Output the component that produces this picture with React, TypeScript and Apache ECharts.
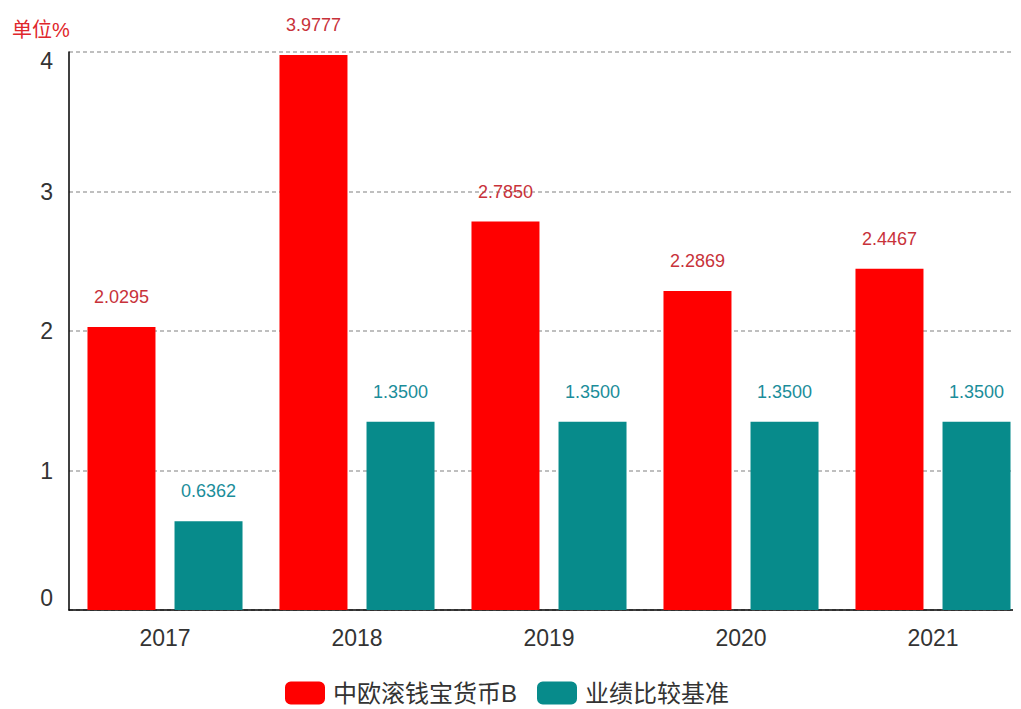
import React, { useEffect, useRef } from "react";
import * as echarts from "echarts";

const categories = ["2017", "2018", "2019", "2020", "2021"];
const fundValues = [2.0295, 3.9777, 2.785, 2.2869, 2.4467];
const benchmarkValues = [0.6362, 1.35, 1.35, 1.35, 1.35];
const seriesNames = ["中欧滚钱宝货币B", "业绩比较基准"];
const unitLabel = "单位%";
const yMin = 0;
const yMax = 4;

const FONT = "'Liberation Sans', Arial, 'Noto Sans CJK SC', sans-serif";

export default function App() {
  const ref = useRef<HTMLDivElement>(null);
  useEffect(() => {
    if (!ref.current) return;
    const chart = echarts.init(ref.current, undefined, { renderer: "svg" });
    chart.setOption({
      animation: false,
      textStyle: { fontFamily: FONT },
      title: {
        text: unitLabel,
        left: -1,
        top: 7,
        textStyle: { color: "#e0262b", fontSize: 20, fontWeight: "normal", fontFamily: FONT },
      },
      legend: {
        bottom: -1,
        left: 272,
        itemWidth: 40,
        itemHeight: 23,
        itemGap: 20,
        icon: "roundRect",
        textStyle: { fontSize: 24, color: "#333", fontFamily: FONT, padding: [0, 0, 0, 3] },
        data: seriesNames,
      },
      grid: { left: 61, right: 19, top: 44, bottom: 99, containLabel: false },
      xAxis: {
        type: "category",
        data: categories,
        axisLine: { lineStyle: { color: "#000", width: 1.5 } },
        axisTick: { lineStyle: { color: "#000" }, length: 8 },
        axisLabel: { fontSize: 23, color: "#333", margin: 16 },
      },
      yAxis: {
        type: "value",
        min: yMin,
        max: yMax,
        interval: 1,
        axisLine: { show: true, lineStyle: { color: "#000", width: 1.5 } },
        axisTick: { show: false },
        axisLabel: {
          fontSize: 23,
          color: "#333",
          margin: 16,
          formatter: (v: number) =>
            v === yMax ? `{top|${v}}` : v === yMin ? `{bot|${v}}` : `${v}`,
          rich: {
            top: { fontSize: 23, color: "#333", padding: [18, 0, 0, 0] },
            bot: { fontSize: 23, color: "#333", padding: [0, 0, 25, 0] },
          },
        },
        splitLine: { lineStyle: { color: "#aaa", type: [4, 3], width: 1.5 } },
      },
      series: [
        {
          name: seriesNames[0],
          type: "bar",
          data: fundValues,
          barWidth: 68,
          barGap: "28%",
          itemStyle: { color: "#ff0000" },
          label: {
            show: true,
            position: "top",
            distance: 21,
            fontSize: 18,
            color: "#c8323a",
            formatter: (p: any) => Number(p.value).toFixed(4),
          },
        },
        {
          name: seriesNames[1],
          type: "bar",
          data: benchmarkValues,
          barWidth: 68,
          itemStyle: { color: "#078b8b" },
          label: {
            show: true,
            position: "top",
            distance: 21,
            fontSize: 18,
            color: "#1b8d9a",
            formatter: (p: any) => Number(p.value).toFixed(4),
          },
        },
      ],
    });
    return () => chart.dispose();
  }, []);
  return (
    <div style={{ width: 1013, height: 701, overflow: "hidden" }}>
      <div ref={ref} style={{ width: 1040, height: 701 }} />
    </div>
  );
}
